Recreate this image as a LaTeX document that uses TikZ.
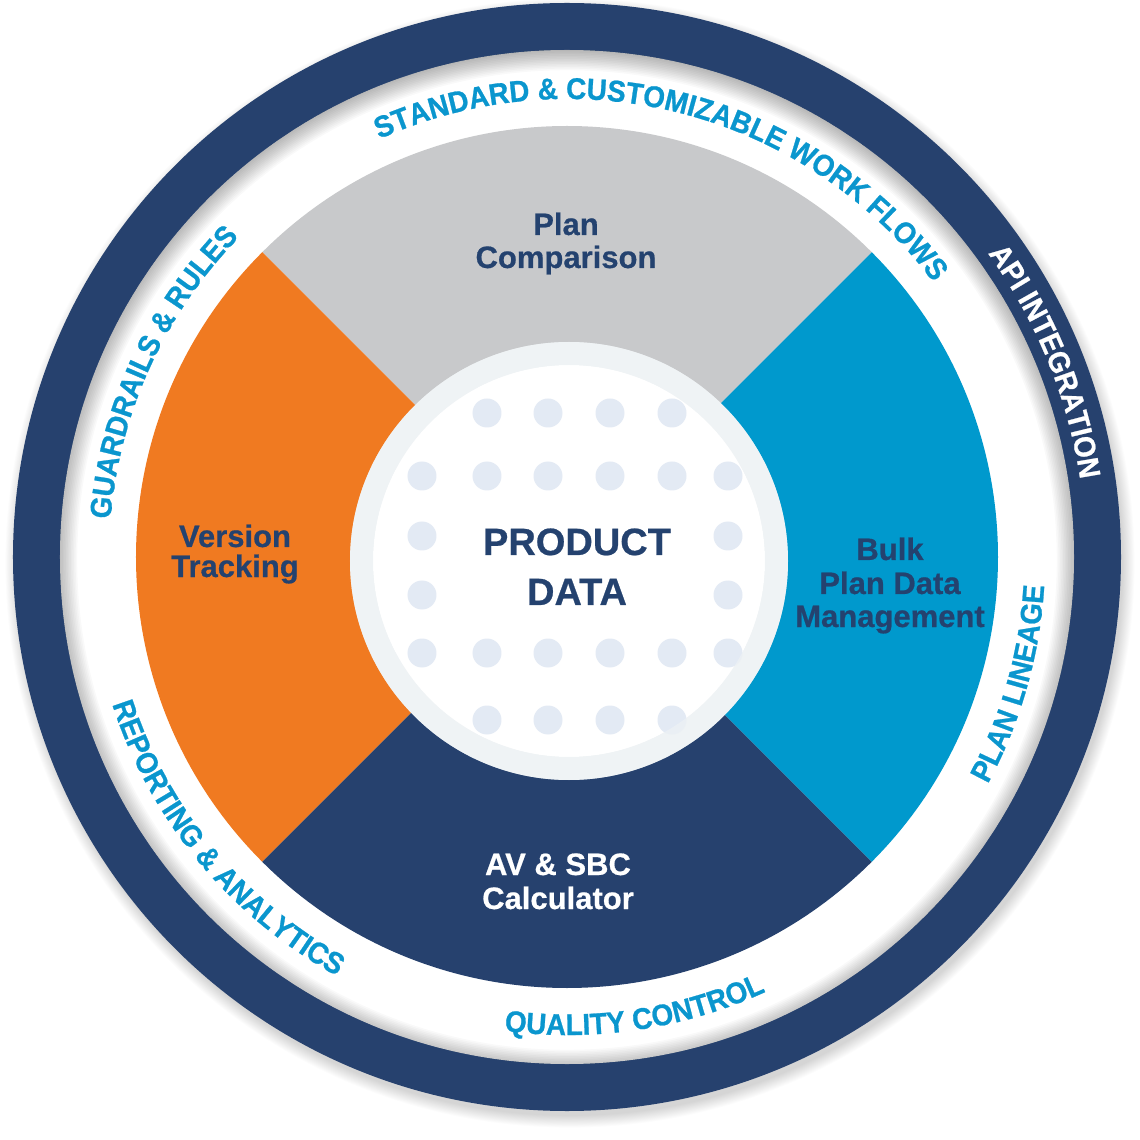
\documentclass[tikz,border=0pt]{standalone}
\usepackage{fontspec}
\setmainfont{Liberation Sans}[BoldFeatures={FakeBold=0.6}]
\newfontfamily\ringfam{Liberation Sans}[FakeStretch=0.93, BoldFeatures={FakeBold=0.8}]
\usetikzlibrary{decorations.text}
\definecolor{navy}{HTML}{26416E}
\definecolor{qorange}{HTML}{F07A21}
\definecolor{qgray}{HTML}{C8C9CB}
\definecolor{qblue}{HTML}{0099CD}
\definecolor{ringblue}{HTML}{0A96CE}
\definecolor{lightring}{HTML}{EFF3F5}
\definecolor{dotc}{HTML}{E3EAF4}
\definecolor{txtnavy}{HTML}{24426F}
\newcommand\ringfnt{\ringfam\fontsize{30}{32}\selectfont\bfseries}
\begin{document}
\begin{tikzpicture}[x=1pt,y=1pt,
  qtext/.style={font=\fontsize{31}{33}\selectfont\bfseries, text=txtnavy, anchor=base, inner sep=0pt},
  ptext/.style={font=\fontsize{38}{40}\selectfont\bfseries, text=txtnavy, anchor=base, inner sep=0pt},
  cwtext/.style={decorate, decoration={text along path, text align=center, text={#1}}},
]
\useasboundingbox (-567,-583) rectangle (573,557);
\fill[white] (-567,-583) rectangle (573,557);

% drop shadow of the outer disc
\foreach \i in {1,...,14} { \fill[black, opacity=0.012] (3,-6) circle ({552+\i*0.9}); }

% outer navy ring and white ring
\fill[navy] (0,0) circle (554);
\fill[white] (0,0) circle (507);
\begin{scope}
  \clip (0,0) circle (507);
  \foreach \i in {0,...,12} { \fill[black, opacity=0.022, even odd rule] (0,0) circle (515) (0,-3) circle ({509-\i*1.6}); }
\end{scope}

% quadrants
\fill[qgray]   (0,0) -- (45:431)  arc[start angle=45,  end angle=135, radius=431] -- cycle;
\fill[qorange] (0,0) -- (135:431) arc[start angle=135, end angle=225, radius=431] -- cycle;
\fill[navy]    (0,0) -- (225:431) arc[start angle=225, end angle=315, radius=431] -- cycle;
\fill[qblue]   (0,0) -- (-45:431) arc[start angle=-45, end angle=45,  radius=431] -- cycle;

% centre disc
\fill[lightring] (2,-4) circle (219);
\fill[white] (2,-4) circle (196);
\begin{scope}
  \clip (2,-4) circle (219);
  \foreach \x in {-80,-19,43,105} { \fill[dotc] (\x,144) circle (14.5); \fill[dotc] (\x,-163) circle (14.5); }
  \foreach \x in {-145,-80,-19,43,105,161} { \fill[dotc] (\x,81) circle (14.5); \fill[dotc] (\x,-96) circle (14.5); }
  \foreach \y in {21,-38} { \fill[dotc] (-145,\y) circle (14.5); \fill[dotc] (161,\y) circle (14.5); }
\end{scope}
\fill[lightring, opacity=0.65, even odd rule] (2,-4) circle (219) (2,-4) circle (196);

% quadrant labels
\node[qtext] (plan1) at (-1,322) {Plan};
\node[qtext] (plan2) at (-1,289) {Comparison};
\node[qtext] (ver1) at (-332,10) {Version};
\node[qtext] (ver2) at (-332,-20) {Tracking};
\node[qtext] (bulk1) at (323,-3) {Bulk};
\node[qtext] (bulk2) at (323,-37) {Plan Data};
\node[qtext] (bulk3) at (323,-70) {Management};
\node[qtext, text=white] (av1) at (-9,-318) {AV \& SBC};
\node[qtext, text=white] (av2) at (-9,-352) {Calculator};
\node[ptext] (pd1) at (10,2) {PRODUCT};
\node[ptext] (pd2) at (10,-48) {DATA};

% ring labels
\path[cwtext={|\ringfnt\color{ringblue}|STANDARD {\&} CUSTOMIZABLE WORK FLOWS}]
  (145.5:458) arc[start angle=145.5, end angle=5.5, radius=458];
\path[cwtext={|\ringfnt\color{ringblue}|GUARDRAILS {\&} RULES}]
  (225.5:458) arc[start angle=225.5, end angle=85.5, radius=458];
\path[cwtext={|\ringfnt\color{ringblue}|REPORTING {\&} ANALYTICS}]
  (149.6:478) arc[start angle=149.6, end angle=289.6, radius=478];
\path[cwtext={|\ringfnt\color{ringblue}|QUALITY CONTROL}]
  (208.5:478) arc[start angle=208.5, end angle=348.5, radius=478];
\path[cwtext={|\ringfnt\color{ringblue}|PLAN LINEAGE}]
  (-85.9:478) arc[start angle=-85.9, end angle=54.1, radius=478];
\path[cwtext={|\ringfnt\color{white}|API INTEGRATION}]
  (92.2:519) arc[start angle=92.2, end angle=-47.8, radius=519];
\end{tikzpicture}
\end{document}
